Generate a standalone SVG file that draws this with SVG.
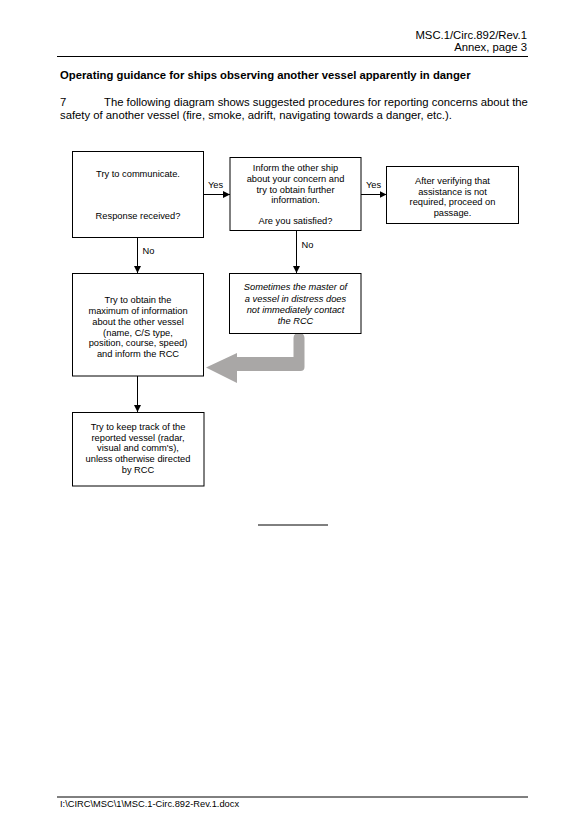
<svg xmlns="http://www.w3.org/2000/svg" width="587" height="830" viewBox="0 0 587 830">
<defs>
<style>
.t{font-family:"Liberation Sans",Arial,sans-serif;fill:#000}
.hd{font-size:11.3px}
.bx{fill:#fff;stroke:#000;stroke-width:1}
.nt{font-size:9.3px;text-anchor:middle}
.it{font-style:italic}
.lb{font-size:9.3px}
.cn{stroke:#000;stroke-width:1;fill:none}
</style>
<marker id="ah" viewBox="0 0 10 10" refX="10" refY="5" markerWidth="7" markerHeight="7" markerUnits="userSpaceOnUse" orient="auto">
<path d="M0,0 L10,5 L0,10 Z" fill="#000"/>
</marker>
</defs>
<rect width="587" height="830" fill="#fff"/>

<g id="header">
<text class="t hd" x="527" y="39" text-anchor="end">MSC.1/Circ.892/Rev.1</text>
<text class="t hd" x="527" y="51" text-anchor="end">Annex, page 3</text>
<line x1="57" y1="56.5" x2="528" y2="56.5" stroke="#000" stroke-width="1"/>
<text class="t hd" x="60" y="79" font-weight="bold">Operating guidance for ships observing another vessel apparently in danger</text>
<text class="t hd" x="60" y="106">7</text>
<text class="t hd" x="104" y="106">The following diagram shows suggested procedures for reporting concerns about the</text>
<text class="t hd" x="60" y="119">safety of another vessel (fire, smoke, adrift, navigating towards a danger, etc.).</text>
</g>

<g id="connectors">
<line class="cn" x1="204" y1="194.5" x2="230" y2="194.5" marker-end="url(#ah)"/>
<line class="cn" x1="361" y1="194.5" x2="386.5" y2="194.5" marker-end="url(#ah)"/>
<line class="cn" x1="137.5" y1="238" x2="137.5" y2="273" marker-end="url(#ah)"/>
<line class="cn" x1="296.5" y1="231" x2="296.5" y2="273" marker-end="url(#ah)"/>
<line class="cn" x1="137.5" y1="376" x2="137.5" y2="412" marker-end="url(#ah)"/>
<path id="grey-arrow" d="M293.5,338 A5.5,5.5 0 0 1 304.5,338 L304.5,367 Q304.5,371 300.5,371 L237,371 L237,383 L206,367.5 L237,353 L237,357 L293.5,357 Z" fill="#a9a7a6"/>
<text class="t lb" x="208" y="188">Yes</text>
<text class="t lb" x="366" y="188">Yes</text>
<text class="t lb" x="142.5" y="254">No</text>
<text class="t lb" x="301.5" y="248">No</text>
</g>

<g id="n1">
<rect class="bx" x="72.5" y="151.5" width="131" height="86"/>
<text class="t nt" x="138" y="177">Try to communicate.</text>
<text class="t nt" x="138" y="218.5">Response received?</text>
</g>

<g id="n2">
<rect class="bx" x="230" y="157.5" width="131" height="73"/>
<text class="t nt" x="295.5" y="171">Inform the other ship</text>
<text class="t nt" x="295.5" y="182">about your concern and</text>
<text class="t nt" x="295.5" y="192.5">try to obtain further</text>
<text class="t nt" x="295.5" y="203">information.</text>
<text class="t nt" x="295.5" y="223.5">Are you satisfied?</text>
</g>

<g id="n3">
<rect class="bx" x="386.5" y="166.5" width="132" height="57"/>
<text class="t nt" x="452.5" y="184">After verifying that</text>
<text class="t nt" x="452.5" y="194.5">assistance is not</text>
<text class="t nt" x="452.5" y="205">required, proceed on</text>
<text class="t nt" x="452.5" y="216">passage.</text>
</g>

<g id="n4">
<rect class="bx" x="72.5" y="273.5" width="131" height="102.5"/>
<text class="t nt" x="138" y="303">Try to obtain the</text>
<text class="t nt" x="138" y="314">maximum of information</text>
<text class="t nt" x="138" y="324.5">about the other vessel</text>
<text class="t nt" x="138" y="335.5">(name, C/S type,</text>
<text class="t nt" x="138" y="346">position, course, speed)</text>
<text class="t nt" x="138" y="357">and inform the RCC</text>
</g>

<g id="n5">
<rect class="bx" x="229.5" y="273.5" width="131.5" height="60"/>
<text class="t nt it" x="295.5" y="290">Sometimes the master of</text>
<text class="t nt it" x="295.5" y="301.5">a vessel in distress does</text>
<text class="t nt it" x="295.5" y="313">not immediately contact</text>
<text class="t nt it" x="295.5" y="324">the RCC</text>
</g>

<g id="n6">
<rect class="bx" x="72.5" y="412.5" width="131.5" height="73.5"/>
<text class="t nt" x="138" y="430">Try to keep track of the</text>
<text class="t nt" x="138" y="440.5">reported vessel (radar,</text>
<text class="t nt" x="138" y="451">visual and comm's),</text>
<text class="t nt" x="138" y="462">unless otherwise directed</text>
<text class="t nt" x="138" y="472.5">by RCC</text>
</g>

<g id="footer">
<line x1="258" y1="525" x2="328" y2="525" stroke="#000" stroke-width="1"/>
<line x1="57" y1="797" x2="528" y2="797" stroke="#000" stroke-width="1"/>
<text class="t" x="60" y="807" font-size="9.3px">I:\CIRC\MSC\1\MSC.1-Circ.892-Rev.1.docx</text>
</g>
</svg>
